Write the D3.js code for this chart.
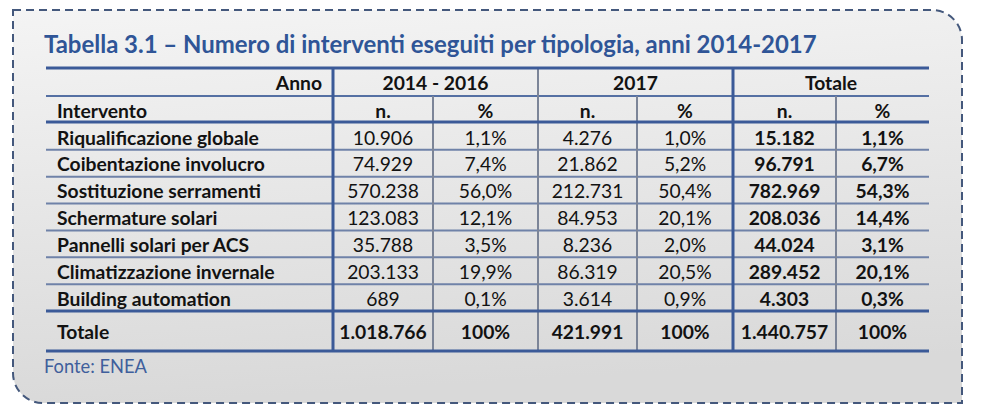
<!DOCTYPE html>
<html><head><meta charset="utf-8">
<script src="https://cdn.jsdelivr.net/npm/d3@7/dist/d3.min.js"></script>
<style>body{margin:0;background:#fff}svg{display:block}</style>
</head><body>
<svg id="c" width="982" height="413"></svg>
<script>
const title = "Tabella 3.1 – Numero di interventi eseguiti per tipologia, anni 2014-2017";
const source = "Fonte: ENEA";
const headAnno = "Anno";
const headIntervento = "Intervento";
const groups = ["2014 - 2016", "2017", "Totale"];
const subHeaders = ["n.", "%", "n.", "%", "n.", "%"];
const categories = ["Riqualificazione globale", "Coibentazione involucro", "Sostituzione serramenti",
  "Schermature solari", "Pannelli solari per ACS", "Climatizzazione invernale", "Building automation"];
const n2016 = [10906, 74929, 570238, 123083, 35788, 203133, 689];
const pct2016 = [1.1, 7.4, 56.0, 12.1, 3.5, 19.9, 0.1];
const n2017 = [4276, 21862, 212731, 84953, 8236, 86319, 3614];
const pct2017 = [1.0, 5.2, 50.4, 20.1, 2.0, 20.5, 0.9];
const nTot = [15182, 96791, 782969, 208036, 44024, 289452, 4303];
const pctTot = [1.1, 6.7, 54.3, 14.4, 3.1, 20.1, 0.3];
const totalLabel = "Totale";
const totalsN = [1018766, 421991, 1440757];
const totalsPct = [100, 100, 100];

const loc = d3.formatLocale({decimal: ",", thousands: ".", grouping: [3], currency: ["€", ""]});
const fN = loc.format(",d");
const fP = v => (v === 100 ? "100" : loc.format(".1f")(v)) + "%";

const svg = d3.select("#c");
const FONT = "Lato, 'Open Sans', sans-serif";
const BLUE = "#3b5a98", THIN_H = "#6f82a8", THIN_V = "#7c8598", TXT = "#121212";

// background box
const defs = svg.append("defs");
const g = defs.append("linearGradient").attr("id", "bg").attr("x1", 0).attr("y1", 0).attr("x2", 0.15).attr("y2", 1);
g.append("stop").attr("offset", 0).attr("stop-color", "#f4f4f4");
g.append("stop").attr("offset", 1).attr("stop-color", "#d9d9d9");
const L = 13, T = 10, R = 962, B = 403, r = 30;
const p = d3.path();
p.moveTo(L, T); p.lineTo(R - r, T); p.arcTo(R, T, R, T + r, r); p.lineTo(R, B);
p.lineTo(L + r, B); p.arcTo(L, B, L, B - r, r); p.closePath();
svg.append("path").attr("d", p.toString()).attr("fill", "url(#bg)")
  .attr("stroke", "#44587c").attr("stroke-width", 2).attr("stroke-dasharray", "8,5");

// fit font size to width
function fitSize(str, weight, target) {
  const t = svg.append("text").attr("font-family", FONT).attr("font-weight", weight).attr("font-size", 100).text(str);
  const w = t.node().getComputedTextLength(); t.remove();
  return 100 * target / w;
}
const titleSize = fitSize(title, "bold", 773);
const tableSize = fitSize(categories[0], "bold", 202);
const srcSize = fitSize(source, "normal", 103);

svg.append("text").attr("x", 44).attr("y", 53).attr("font-family", FONT).attr("font-weight", "bold")
  .attr("font-size", titleSize).attr("fill", "#2f5597").text(title);
svg.append("text").attr("x", 44).attr("y", 373).attr("font-family", FONT)
  .attr("font-size", srcSize).attr("fill", "#3f5f9c").text(source);

// table geometry
const tableLeft = 46, tableRight = 929;
const colEdges = [333, 433, 538, 637, 733, 836, tableRight];
const yTop = 68, yH1 = 96, yH2 = 123, yData = 311, yBottom = 351;
const y = d3.scaleBand().domain(categories).range([yH2, yData]);
const tab = svg.append("g").attr("font-family", FONT).attr("font-size", tableSize).attr("fill", TXT);
const mid = (a, b) => (a + b) / 2;
const DY = "0.42em";

// header row 1
tab.append("text").attr("x", 322).attr("y", mid(yTop, yH1)).attr("dy", DY).attr("text-anchor", "end")
  .attr("font-weight", "bold").text(headAnno);
groups.forEach((gname, i) => {
  tab.append("text").attr("x", mid(colEdges[i * 2], colEdges[i * 2 + 2])).attr("y", mid(yTop, yH1))
    .attr("dy", DY).attr("text-anchor", "middle").attr("font-weight", "bold").text(gname);
});
// header row 2
tab.append("text").attr("x", 57).attr("y", mid(yH1, yH2)).attr("dy", DY).attr("font-weight", "bold").text(headIntervento);
subHeaders.forEach((s, i) => {
  tab.append("text").attr("x", mid(colEdges[i], colEdges[i + 1])).attr("y", mid(yH1, yH2))
    .attr("dy", DY).attr("text-anchor", "middle").attr("font-weight", "bold").text(s);
});
// data rows
const cols = [[n2016, fN, "normal"], [pct2016, fP, "normal"], [n2017, fN, "normal"], [pct2017, fP, "normal"],
  [nTot, fN, "bold"], [pctTot, fP, "bold"]];
categories.forEach((c, ri) => {
  const cy = y(c) + y.bandwidth() / 2;
  tab.append("text").attr("x", 57).attr("y", cy).attr("dy", DY).attr("font-weight", "bold").text(c);
  cols.forEach(([arr, f, w], ci) => {
    tab.append("text").attr("x", mid(colEdges[ci], colEdges[ci + 1])).attr("y", cy).attr("dy", DY)
      .attr("text-anchor", "middle").attr("font-weight", w).text(f(arr[ri]));
  });
});
// totals row
const ty = mid(yData, yBottom);
tab.append("text").attr("x", 57).attr("y", ty).attr("dy", DY).attr("font-weight", "bold").text(totalLabel);
totalsN.forEach((v, i) => {
  tab.append("text").attr("x", mid(colEdges[i * 2], colEdges[i * 2 + 1])).attr("y", ty).attr("dy", DY)
    .attr("text-anchor", "middle").attr("font-weight", "bold").text(fN(v));
  tab.append("text").attr("x", mid(colEdges[i * 2 + 1], colEdges[i * 2 + 2])).attr("y", ty).attr("dy", DY)
    .attr("text-anchor", "middle").attr("font-weight", "bold").text(fP(totalsPct[i]));
});

// lines
const lines = svg.append("g");
const hl = (yy, color, w) => lines.append("line").attr("x1", tableLeft).attr("x2", tableRight)
  .attr("y1", yy).attr("y2", yy).attr("stroke", color).attr("stroke-width", w);
const vl = (xx, y1, y2, color, w) => lines.append("line").attr("x1", xx).attr("x2", xx)
  .attr("y1", y1).attr("y2", y2).attr("stroke", color).attr("stroke-width", w);
categories.slice(1).forEach(c => hl(y(c), THIN_H, 2));
hl(yH1, "#5570a3", 2);
vl(colEdges[1], yH1, yBottom, THIN_V, 2);
vl(colEdges[3], yH1, yBottom, THIN_V, 2);
vl(colEdges[5], yH1, yBottom, THIN_V, 2);
vl(colEdges[2], yTop, yBottom, THIN_V, 2);
vl(colEdges[0], yTop, yBottom, BLUE, 3);
vl(colEdges[4], yTop, yBottom, BLUE, 3);
[yTop, yH2 - 1, yData, yBottom].forEach(yy => hl(yy, BLUE, 3));
</script>
</body></html>
